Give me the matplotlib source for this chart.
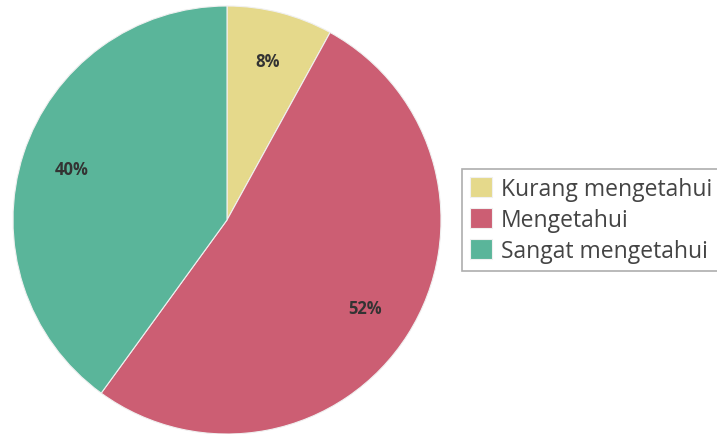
import matplotlib
matplotlib.use('Agg')
import matplotlib.pyplot as plt

labels = ['Kurang mengetahui', 'Mengetahui', 'Sangat mengetahui']
values = [8, 52, 40]
colors = ['#E5D98B', '#CC5E73', '#5AB59A']

plt.rcParams['font.family'] = ['Open Sans', 'DejaVu Sans']

fig = plt.figure(figsize=(7.17, 4.35), dpi=100)
ax = fig.add_axes([13 / 717, 0, 428 / 717, 428 / 435])

wedges, texts, autotexts = ax.pie(
    values, colors=colors, startangle=90, counterclock=False,
    autopct='%d%%', pctdistance=0.765,
    wedgeprops=dict(edgecolor='#f0f0f0', linewidth=0.8),
    textprops=dict(fontsize=12, fontweight='bold', color='#333333'))
ax.set_xlim(-1, 1)
ax.set_ylim(-1, 1)
ax.set_aspect('equal')

leg = fig.legend(wedges, labels, loc='center left',
                 bbox_to_anchor=(462 / 717, 1 - 221 / 435),
                 fontsize=16.5, frameon=True, fancybox=False,
                 handlelength=0.95, handleheight=0.95, handletextpad=0.4,
                 labelspacing=0.3, borderpad=0.35, borderaxespad=0)
leg.get_frame().set_edgecolor('#999999')
leg.get_frame().set_linewidth(1.2)
for t in leg.get_texts():
    t.set_color('#444444')

fig.savefig('out.png', dpi=100)
